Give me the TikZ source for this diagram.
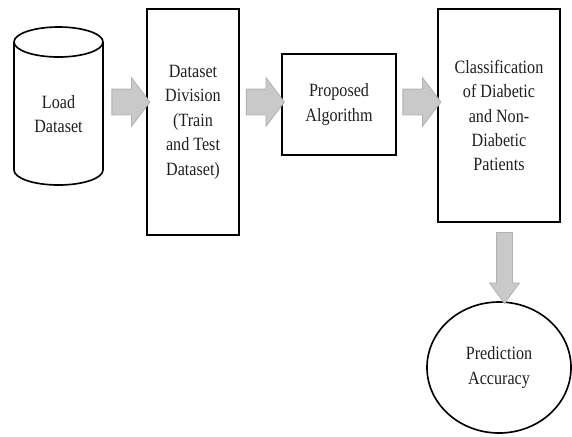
\documentclass[tikz,border=0pt]{standalone}
\usepackage{fontspec}
\setmainfont[FakeStretch=0.86]{Liberation Serif}
\usetikzlibrary{shapes.geometric,shapes.arrows}

\begin{document}
\begin{tikzpicture}[x=0.03cm, y=-0.03cm, line width=1.4pt,
    every node/.style={font=\fontsize{16}{20.9}\selectfont, align=center, inner sep=0pt, text=black!88},
    box/.style={draw, rectangle},
    garrow/.style={single arrow, draw=black!30, fill=black!21, line width=0.7pt, inner xsep=0pt, inner ysep=0.375cm,
      single arrow head extend=0.345cm, single arrow tip angle=106, minimum height=1.14cm}]
    \useasboundingbox (0,0) rectangle (572,436);

    % Datenbank
    \draw (14,42) -- (14,170) arc[start angle=180, end angle=360, x radius=1.335cm, y radius=0.45cm] -- (103,42);
    \draw (58.5,42) ellipse [x radius=1.335cm, y radius=0.45cm];
    \node (load) at (58.5,114) {Load\\Dataset};

    % Schritte
    \node[box, minimum width=2.76cm, minimum height=6.78cm] (div) at (193,122) {Dataset\\Division\\(Train\\and Test\\Dataset)};
    \node[box, minimum width=3.42cm, minimum height=3.03cm] (alg) at (339,104.5) {Proposed\\Algorithm};
    \node[box, minimum width=3.66cm, minimum height=6.39cm] (cls) at (499,115.5) {Classification\\of Diabetic\\and Non-\\Diabetic\\Patients};
    \node[draw, ellipse, minimum width=4.32cm, minimum height=3.93cm] (acc) at (499,367.5) {Prediction\\Accuracy};

    % Pfeile
    \node[garrow] (a1) at (126,102) {};
    \node[garrow] (a2) at (260.5,102) {};
    \node[garrow] (a3) at (417,102) {};
    \node[garrow, rotate=-90, inner ysep=0.225cm, single arrow head extend=0.21cm, single arrow tip angle=72, minimum height=2.13cm] (a4) at (504.5,262.5) {};
\end{tikzpicture}
\end{document}
